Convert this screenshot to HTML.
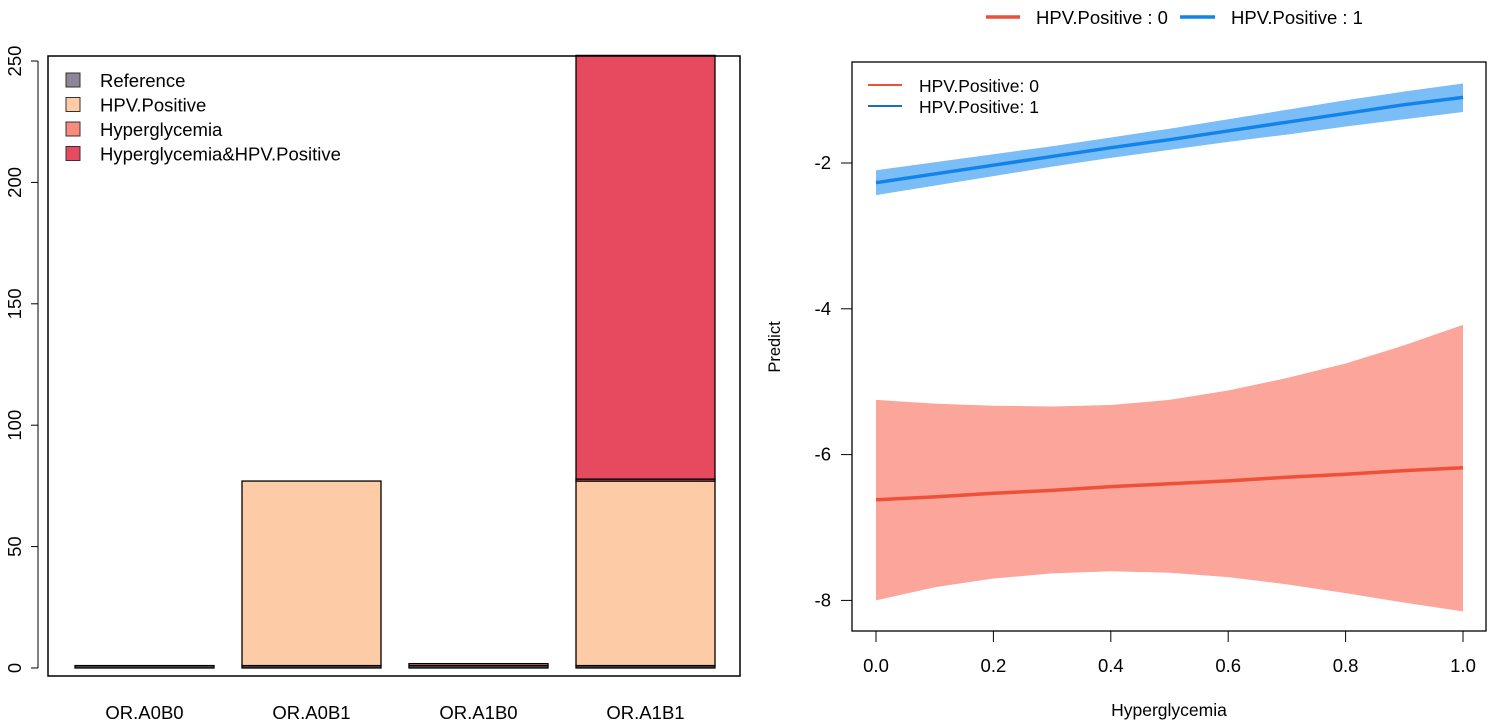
<!DOCTYPE html>
<html><head><meta charset="utf-8"><style>
body{margin:0;background:#fff;}
svg{display:block;font-family:"Liberation Sans",sans-serif;}
</style></head><body>
<svg id="c" width="1488" height="728"></svg>
<script>
const categories=["OR.A0B0","OR.A0B1","OR.A1B0","OR.A1B1"];
const refVals=[1,1,1,1];
const hpvVals=[0,76,0,76];
const hyperVals=[0,0,0.8,0.8];
const interVals=[0,0,0,174.5];
const segNames=["Reference","HPV.Positive","Hyperglycemia","Hyperglycemia&HPV.Positive"];
const segColors=["#5a5560","#fdcba6","#f98a7d","#e64a5f"];
const legColors=["#8e8696","#fdcba6","#f98a7d","#e64a5f"];
const leftTicks=[0,50,100,150,200,250];
const xs=[0,0.1,0.2,0.3,0.4,0.5,0.6,0.7,0.8,0.9,1];
const blueLine=[-2.27,-2.15,-2.03,-1.91,-1.79,-1.68,-1.56,-1.44,-1.32,-1.2,-1.1];
const blueUp=[-2.1,-1.99,-1.88,-1.77,-1.65,-1.53,-1.4,-1.27,-1.14,-1.02,-0.91];
const blueLo=[-2.44,-2.31,-2.18,-2.05,-1.93,-1.82,-1.71,-1.61,-1.5,-1.4,-1.3];
const redLine=[-6.62,-6.58,-6.53,-6.49,-6.44,-6.4,-6.36,-6.31,-6.27,-6.22,-6.18];
const redUp=[-5.25,-5.3,-5.33,-5.34,-5.32,-5.25,-5.12,-4.95,-4.75,-4.5,-4.22];
const redLo=[-8.0,-7.82,-7.7,-7.63,-7.6,-7.62,-7.68,-7.78,-7.9,-8.03,-8.15];
const rightYTicks=[-2,-4,-6,-8];
const rightXTicks=[0,0.2,0.4,0.6,0.8,1];

const svg=document.getElementById('c');
const NS="http://www.w3.org/2000/svg";
function mk(tag,attrs,parent,name,text){const e=document.createElementNS(NS,tag);for(const k in attrs)e.setAttribute(k,attrs[k]);


if(text!==undefined)e.textContent=text;(parent||svg).appendChild(e);return e;}

const FS=18.5;
// Left chart
const ly=v=>668-v*2.428;
const barX=[75,242,409,576],barW=139;
const gL=mk('g',{},svg,'stacked-bar-chart');
categories.forEach((c,i)=>{
  const segs=[refVals[i],hpvVals[i],hyperVals[i],interVals[i]];
  let base=0;
  segs.forEach((s,j)=>{
    if(s<=0)return;
    mk('rect',{x:barX[i],y:ly(base+s),width:barW,height:ly(base)-ly(base+s),fill:segColors[j],stroke:'#000','stroke-width':1.3},gL,'bar-'+c.toLowerCase().replace('.','-')+'-seg'+j);
    base+=s;
  });
  mk('text',{x:barX[i]+barW/2,y:719,'text-anchor':'middle','font-size':FS,fill:'#000'},gL,'x-label-'+i,c);
});
mk('rect',{x:48,y:56,width:692,height:620,fill:'none',stroke:'#000','stroke-width':1.5},gL,'left-plot-frame');
mk('line',{x1:38,x2:38,y1:ly(0),y2:ly(250),stroke:'#000'},gL,'left-y-axis');
leftTicks.forEach(t=>{
  mk('line',{x1:31,x2:38,y1:ly(t),y2:ly(t),stroke:'#000'},gL,'left-y-tick');
  mk('text',{x:0,y:0,transform:`translate(21,${ly(t)}) rotate(-90)`,'text-anchor':'middle','font-size':FS},gL,'left-y-tick-label',t);
});
segNames.forEach((n,j)=>{
  const y=80+j*24.5;
  mk('rect',{x:66,y:y-7,width:14,height:14,fill:legColors[j],stroke:'#333'},gL,'legend-swatch-'+j);
  mk('text',{x:100,y:y+7,'font-size':FS},gL,'legend-label-'+j,n);
});

// Right chart
const rx=v=>876+v*587, ry=v=>163+(-2-v)*72.9;
const gR=mk('g',{},svg,'prediction-chart');
function band(up,lo,fill,name){let d='M'+xs.map((x,i)=>rx(x)+','+ry(up[i])).join('L');
  d+='L'+xs.slice().reverse().map((x,k)=>{const i=xs.length-1-k;return rx(x)+','+ry(lo[i]);}).join('L')+'Z';
  mk('path',{d,fill},gR,name);}
function line(v,stroke,name){mk('polyline',{points:xs.map((x,i)=>rx(x)+','+ry(v[i])).join(' '),fill:'none',stroke,'stroke-width':3.5},gR,name);}
band(redUp,redLo,'#fba59b','ci-band-hpv0');
band(blueUp,blueLo,'#7bbdf6','ci-band-hpv1');
line(redLine,'#ef5038','line-hpv0');
line(blueLine,'#1283e8','line-hpv1');
mk('rect',{x:852,y:62,width:634,height:569,fill:'none',stroke:'#000','stroke-width':1.3},gR,'right-plot-frame');
rightYTicks.forEach(t=>{
  mk('line',{x1:841,x2:852,y1:ry(t),y2:ry(t),stroke:'#000'},gR,'right-y-tick');
  mk('text',{x:831,y:ry(t)+6,'text-anchor':'end','font-size':FS},gR,'right-y-tick-label',t);
});
rightXTicks.forEach(t=>{
  mk('line',{x1:rx(t),x2:rx(t),y1:631,y2:642,stroke:'#000'},gR,'right-x-tick');
  mk('text',{x:rx(t),y:672,'text-anchor':'middle','font-size':FS},gR,'right-x-tick-label',t.toFixed(1));
});
mk('text',{x:1169,y:716,'text-anchor':'middle','font-size':FS-1},gR,'x-axis-title','Hyperglycemia');
mk('text',{x:0,y:0,transform:'translate(780,347) rotate(-90)','text-anchor':'middle','font-size':FS-2},gR,'y-axis-title','Predict');
mk('line',{x1:868,x2:902,y1:85,y2:85,stroke:'#ef5038','stroke-width':2},gR,'inner-legend-line-0');
mk('text',{x:919,y:92,'font-size':FS-1},gR,'inner-legend-label-0','HPV.Positive: 0');
mk('line',{x1:868,x2:902,y1:106,y2:106,stroke:'#1a6fb8','stroke-width':2},gR,'inner-legend-line-1');
mk('text',{x:919,y:113,'font-size':FS-1},gR,'inner-legend-label-1','HPV.Positive: 1');
mk('line',{x1:986,x2:1020,y1:17,y2:17,stroke:'#e8503a','stroke-width':3.5},gR,'top-legend-line-0');
mk('text',{x:1036,y:24,'font-size':FS},gR,'top-legend-label-0','HPV.Positive : 0');
mk('line',{x1:1180,x2:1215,y1:17,y2:17,stroke:'#1283e8','stroke-width':3.5},gR,'top-legend-line-1');
mk('text',{x:1231,y:24,'font-size':FS},gR,'top-legend-label-1','HPV.Positive : 1');
</script>
</body></html>
